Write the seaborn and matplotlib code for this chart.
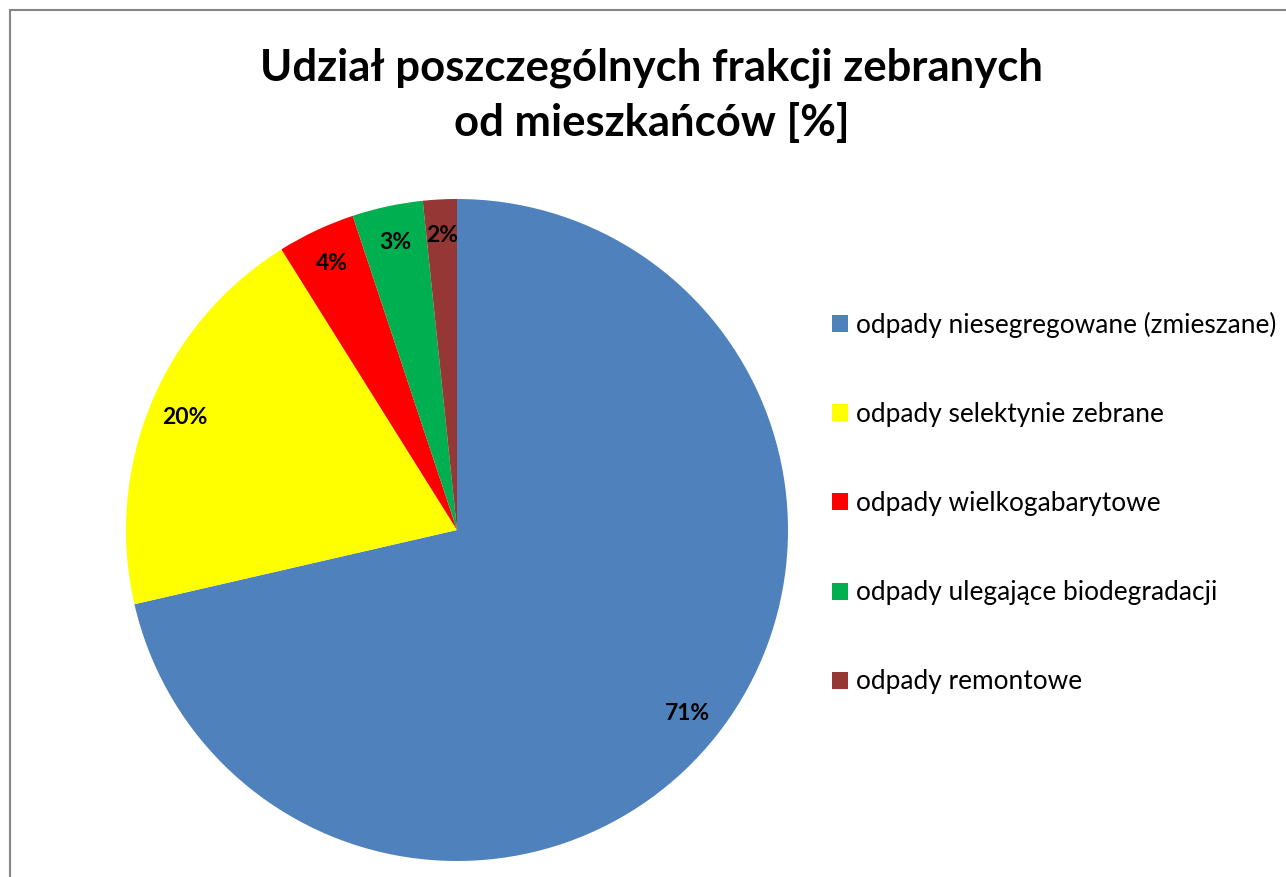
import matplotlib
matplotlib.use("Agg")
import matplotlib.pyplot as plt
from matplotlib.patches import Rectangle
import seaborn as sns

# data
categories = ["odpady niesegregowane (zmieszane)",
              "odpady selektynie zebrane",
              "odpady wielkogabarytowe",
              "odpady ulegające biodegradacji",
              "odpady remontowe"]
shares = [71.4, 19.7, 3.8, 3.45, 1.65]
colors = ["#4F81BD", "#FFFF00", "#FF0000", "#00B050", "#953735"]
title = "Udział poszczególnych frakcji zebranych\nod mieszkańców [%]"

sns.set_theme(style="white")
plt.rcParams['font.family'] = ['Lato', 'DejaVu Sans']
plt.rcParams['text.color'] = 'black'

W, H = 1286, 877
fig = plt.figure(figsize=(W / 100, H / 100), dpi=100)

# pie axes: centre (457, 530) px, radius ~331 px
cx, cy, r = 457, 530, 331
ax = fig.add_axes([(cx - r) / W, (H - cy - r) / H, 2 * r / W, 2 * r / H])
wedges, texts, autotexts = ax.pie(shares, colors=colors, startangle=90, counterclock=False,
                                  autopct='%.0f%%', pctdistance=0.89,
                                  wedgeprops=dict(linewidth=0),
                                  textprops=dict(fontsize=16.5, fontweight='bold', color='black'))
ax.set_xlim(-1, 1)
ax.set_ylim(-1, 1)
ax.set_aspect('equal')
ax.axis('off')

fig.text(652 / W, 1 - 95 / H, title, ha='center', va='center', fontsize=31.4,
         fontweight='bold', linespacing=1.4, color='black')

fig.legend(wedges, categories, loc='upper left', bbox_to_anchor=(832 / W, 1 - 312 / H),
           frameon=False, fontsize=18.9, handlelength=0.62, handleheight=0.62,
           handletextpad=0.3, labelspacing=2.44, borderpad=0, borderaxespad=0,
           labelcolor='black')

# chart border (cut at right and bottom)
fig.add_artist(Rectangle((9.5 / W, -0.1), 1.2, 1.1 - 10.5 / H, transform=fig.transFigure,
                         fill=False, edgecolor='#868686', linewidth=1.5))

fig.savefig("out.png", dpi=100)
